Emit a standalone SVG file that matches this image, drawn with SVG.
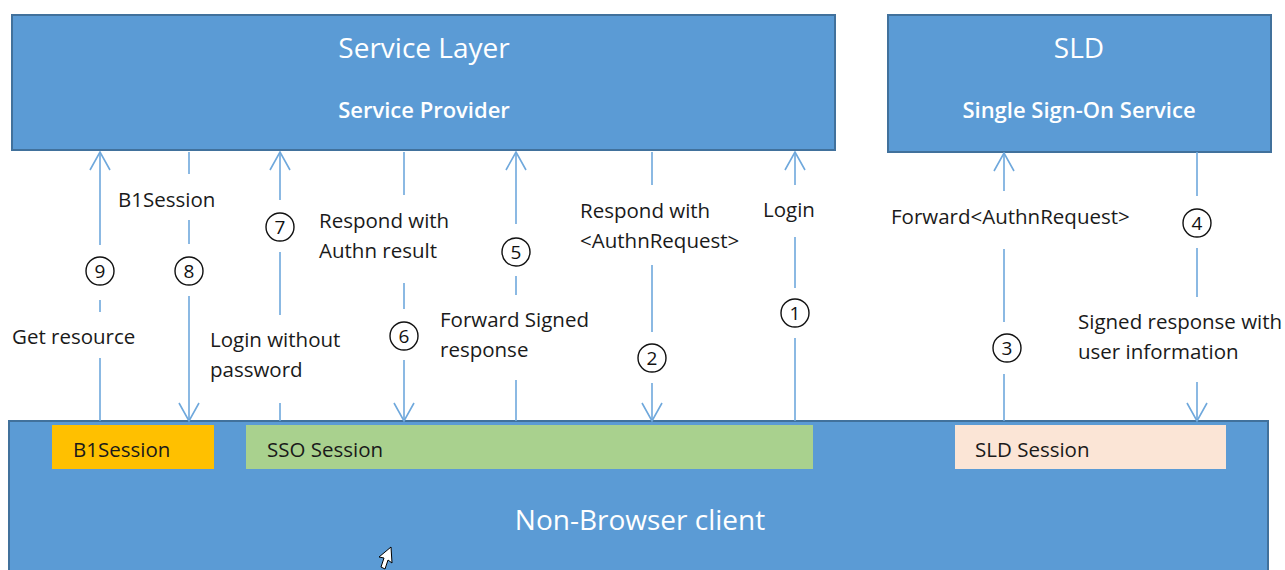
<svg xmlns="http://www.w3.org/2000/svg" width="1285" height="570" viewBox="0 0 1285 570">
<defs>
<style>
.box{fill:#5B9BD5;stroke:#41719C;stroke-width:2}
.ttl{font-family:"Open Sans","Liberation Sans",sans-serif;fill:#fff;text-anchor:middle}
.sub{font-weight:600}
.lbl{font-family:"Open Sans","Liberation Sans",sans-serif;font-size:20.5px;fill:#1a1a1a}
.num{font-family:"Open Sans","Liberation Sans",sans-serif;font-size:19px;fill:#111;text-anchor:middle}
.circ{fill:none;stroke:#111;stroke-width:1.4}
.ln{stroke:#6FA8DC;stroke-width:1.6;fill:none}
</style>
<marker id="ah" markerUnits="userSpaceOnUse" viewBox="0 0 20 22" refX="19" refY="11" markerWidth="20" markerHeight="22" orient="auto">
<path d="M1,1 L19,11 L1,21" fill="none" stroke="#6FA8DC" stroke-width="1.6"/>
</marker>
</defs>
<rect width="1285" height="570" fill="#fff"/>

<g id="service-layer">
<rect class="box" x="12" y="15" width="823" height="135"/>
<text class="ttl" x="424" y="58" font-size="28">Service Layer</text>
<text class="ttl sub" x="424" y="118" font-size="22">Service Provider</text>
</g>

<g id="sld">
<rect class="box" x="888" y="15" width="383" height="137"/>
<text class="ttl" x="1079" y="58" font-size="28">SLD</text>
<text class="ttl sub" x="1079" y="118" font-size="22">Single Sign-On Service</text>
</g>

<g id="client">
<rect class="box" x="9" y="421" width="1259" height="160"/>
<text class="ttl" x="640" y="530" font-size="28">Non-Browser client</text>
</g>

<g id="b1session">
<rect x="52" y="425" width="162" height="44" fill="#FFC000"/>
<text class="lbl" x="73" y="457">B1Session</text>
</g>
<g id="sso-session">
<rect x="246" y="425" width="567" height="44" fill="#A9D18E"/>
<text class="lbl" x="267" y="457">SSO Session</text>
</g>
<g id="sld-session">
<rect x="955" y="425" width="271" height="44" fill="#FBE5D6"/>
<text class="lbl" x="975" y="457">SLD Session</text>
</g>

<g id="connectors">
<!-- 9 up -->
<path class="ln" d="M100,358 V421 M100,300 V312"/>
<path class="ln" d="M100,245 V152" marker-end="url(#ah)"/>
<!-- 8 down -->
<path class="ln" d="M189,152 V174 M189,220 V244"/>
<path class="ln" d="M189,296 V421" marker-end="url(#ah)"/>
<!-- 7 up -->
<path class="ln" d="M280,403 V421 M280,252 V315"/>
<path class="ln" d="M280,200 V152" marker-end="url(#ah)"/>
<!-- 6 down -->
<path class="ln" d="M404,152 V195 M404,283 V309"/>
<path class="ln" d="M404,360 V421" marker-end="url(#ah)"/>
<!-- 5 up -->
<path class="ln" d="M516,380 V421 M516,276 V295"/>
<path class="ln" d="M516,224 V152" marker-end="url(#ah)"/>
<!-- 2 down -->
<path class="ln" d="M652,152 V185 M652,265 V332"/>
<path class="ln" d="M652,383 V421" marker-end="url(#ah)"/>
<!-- 1 up -->
<path class="ln" d="M795,338 V421 M795,237 V288"/>
<path class="ln" d="M795,185 V152" marker-end="url(#ah)"/>
<!-- 3 up -->
<path class="ln" d="M1004,374 V421 M1004,249 V322"/>
<path class="ln" d="M1004,191 V153" marker-end="url(#ah)"/>
<!-- 4 down -->
<path class="ln" d="M1197,152 V196 M1197,248 V297"/>
<path class="ln" d="M1197,382 V421" marker-end="url(#ah)"/>
</g>

<g id="labels">
<text class="lbl" x="118" y="207">B1Session</text>
<text class="lbl" x="12" y="344">Get resource</text>
<text class="lbl" x="210" y="347">Login without</text>
<text class="lbl" x="210" y="377">password</text>
<text class="lbl" x="319" y="228">Respond with</text>
<text class="lbl" x="319" y="258">Authn result</text>
<text class="lbl" x="440" y="327">Forward Signed</text>
<text class="lbl" x="440" y="357">response</text>
<text class="lbl" x="580" y="218">Respond with</text>
<text class="lbl" x="580" y="248">&lt;AuthnRequest&gt;</text>
<text class="lbl" x="763" y="217">Login</text>
<text class="lbl" x="891" y="224">Forward&lt;AuthnRequest&gt;</text>
<text class="lbl" x="1078" y="329">Signed response with</text>
<text class="lbl" x="1078" y="359">user information</text>
</g>

<g id="step-numbers">
<circle class="circ" cx="100" cy="271" r="14"/><text class="num" x="100" y="278">9</text>
<circle class="circ" cx="189" cy="271" r="14"/><text class="num" x="189" y="278">8</text>
<circle class="circ" cx="280" cy="227" r="14"/><text class="num" x="280" y="234">7</text>
<circle class="circ" cx="404" cy="336" r="14"/><text class="num" x="404" y="343">6</text>
<circle class="circ" cx="516" cy="252" r="14"/><text class="num" x="516" y="259">5</text>
<circle class="circ" cx="652" cy="358" r="14"/><text class="num" x="652" y="365">2</text>
<circle class="circ" cx="795" cy="313" r="14"/><text class="num" x="795" y="320">1</text>
<circle class="circ" cx="1007" cy="348" r="14"/><text class="num" x="1007" y="355">3</text>
<circle class="circ" cx="1197" cy="223" r="14"/><text class="num" x="1197" y="230">4</text>
</g>

<path id="cursor" d="M391,547 L392,563 L388,560 L385,569 L381,567 L384,558 L379,557 Z" fill="#fff" stroke="#000" stroke-width="1"/>
</svg>
